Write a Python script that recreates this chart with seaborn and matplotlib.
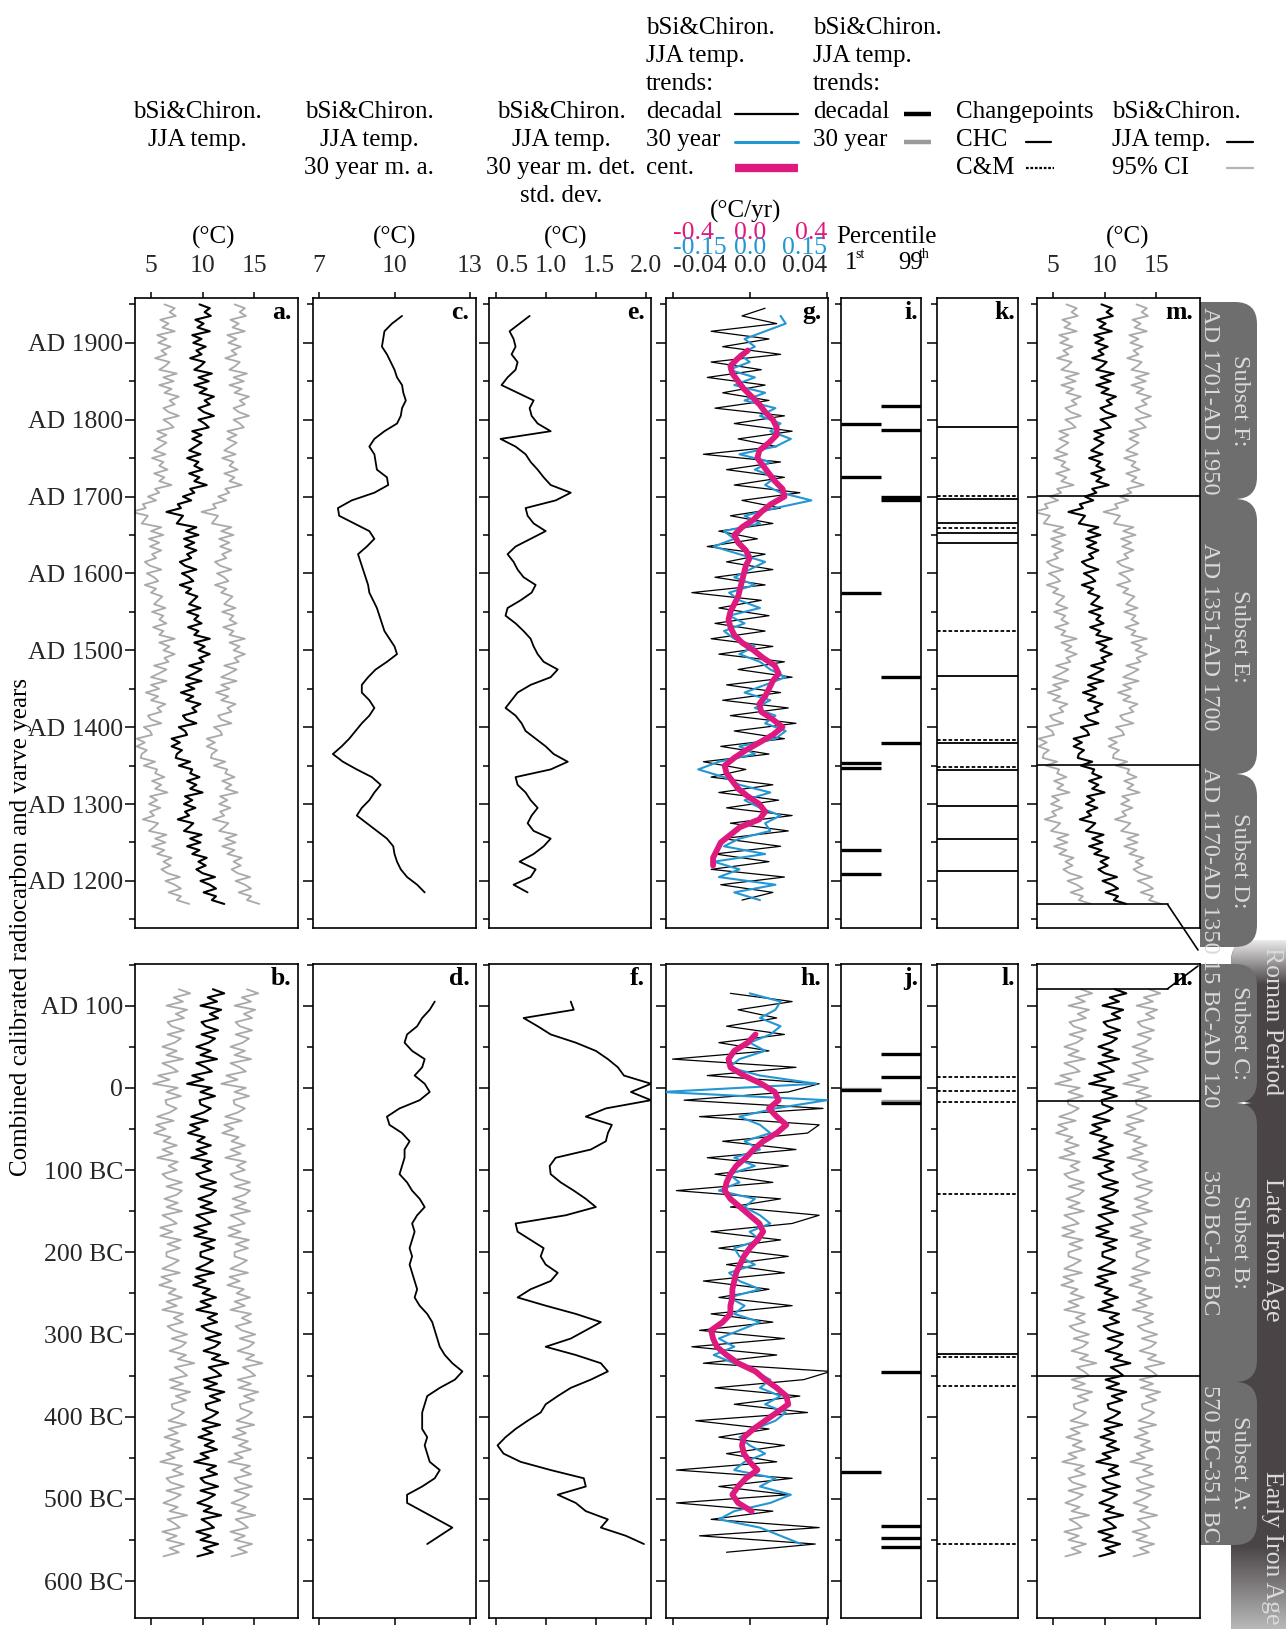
import numpy as np
import matplotlib
matplotlib.use("Agg")
import matplotlib.pyplot as plt
import matplotlib.transforms as mtransforms
from matplotlib.ticker import MultipleLocator, FuncFormatter, FixedLocator, NullLocator
from matplotlib.patches import FancyBboxPatch, PathPatch, ConnectionPatch
from matplotlib.path import Path
from matplotlib.lines import Line2D
from matplotlib.colors import LinearSegmentedColormap
import seaborn as sns

# ------------------------------------------------------------------ data
# bSi & Chironomid JJA temperature (5-year steps)
temp_upper_start = 1170
temp_upper = [12.1, 10.9, 11.3, 10.1, 11.3, 10.7, 9.8, 11.2, 10.0, 9.4, 10.3, 9.6, 10.4, 9.0, 9.7,
              8.5, 9.8, 8.8, 9.9, 8.2, 8.7, 9.1, 7.6, 8.7, 8.3, 9.3, 8.2, 9.0, 8.3, 10.0, 8.8, 9.4,
              8.5, 9.7, 8.8, 9.0, 7.7, 8.8, 7.4, 7.5, 8.0, 7.0, 7.8, 7.0, 8.5, 8.3, 7.7, 9.4, 8.4,
              8.1, 9.4, 9.0, 9.8, 8.4, 9.1, 7.9, 9.2, 8.4, 9.9, 8.4, 9.2, 9.9, 8.7, 10.1, 9.7, 10.7,
              9.6, 10.2, 9.2, 10.7, 9.2, 9.6, 8.6, 9.9, 9.2, 9.6, 8.5, 9.8, 8.7, 9.1, 9.5, 8.4, 8.9,
              7.8, 9.1, 8.7, 8.0, 9.4, 8.3, 7.8, 8.9, 8.5, 9.4, 8.3, 9.2, 8.2, 9.6, 8.4, 9.4, 7.5,
              7.8, 8.1, 6.5, 7.9, 7.6, 8.9, 8.1, 9.2, 8.8, 10.4, 9.2, 9.7, 8.7, 10.0, 9.2, 9.6, 8.5,
              9.8, 8.7, 9.3, 9.9, 9.0, 9.9, 9.0, 10.6, 10.2, 9.6, 11.1, 10.1, 9.6, 10.7, 10.2, 11.1,
              9.7, 10.4, 9.2, 10.6, 9.6, 10.9, 9.2, 9.8, 10.2, 8.8, 9.9, 9.4, 10.3, 9.1, 9.9, 9.0,
              10.7, 9.5, 10.1, 9.3, 10.8, 10.2, 10.7, 9.7]
temp_lower_start = -570
temp_lower = [9.5, 11.0, 10.1, 11.5, 9.8, 10.8, 9.4, 11.1, 10.6, 9.9, 11.8, 10.1, 10.9, 9.5, 10.5,
              11.2, 9.8, 11.5, 10.2, 9.8, 11.4, 10.4, 11.3, 9.2, 10.6, 9.8, 11.4, 10.2, 11.1, 9.6,
              10.9, 10.0, 11.7, 10.0, 10.9, 11.5, 10.4, 10.3, 11.7, 10.7, 12.1, 10.2, 11.4, 10.1,
              11.8, 11.3, 10.6, 12.5, 10.9, 11.7, 10.1, 11.2, 11.7, 10.3, 11.8, 10.5, 9.9, 11.4,
              10.5, 11.4, 9.4, 10.8, 9.8, 11.3, 10.0, 10.7, 9.1, 10.3, 9.3, 11.1, 9.4, 10.3, 11.0,
              9.8, 9.8, 11.1, 9.9, 11.2, 9.2, 10.4, 9.2, 10.8, 10.2, 9.4, 11.3, 9.8, 10.9, 9.6,
              10.8, 11.3, 9.8, 11.3, 9.9, 9.4, 10.8, 10.0, 10.9, 8.9, 10.4, 9.4, 10.8, 9.5, 10.2,
              8.6, 9.7, 8.8, 10.5, 8.9, 10.1, 10.8, 9.8, 9.7, 11.2, 9.8, 10.9, 8.5, 10.1, 9.0,
              10.9, 10.3, 9.4, 11.4, 9.8, 10.8, 9.4, 10.6, 11.2, 9.9, 11.5, 10.3, 9.9, 11.5, 10.7,
              11.8, 9.8, 11.4, 10.5, 12.1, 11.0]
temp_step = 5
ci_half_width_upper = 3.4   # 95% CI half width (deg C)
ci_half_width_lower = 3.3

# 30-year moving average (10-year steps)
ma30_upper_start = 1185
ma30_upper = [11.2, 10.9, 10.5, 10.25, 10.1, 10.0, 9.95, 9.7, 9.3, 8.9, 8.5, 8.7, 9.0, 9.2, 9.45,
              9.1, 8.5, 7.95, 7.55, 7.9, 8.2, 8.45, 8.7, 9.0, 9.2, 9.0, 8.7, 8.7, 8.95, 9.25, 9.7,
              10.1, 10.0, 9.8, 9.6, 9.5, 9.4, 9.3, 9.15, 9.0, 8.95, 8.85, 8.75, 8.65, 8.55, 8.9, 9.2,
              9.0, 8.4, 7.8, 7.75, 8.3, 9.2, 9.75, 9.7, 9.3, 9.25, 9.2, 9.0, 9.2, 9.6, 10.1, 10.25,
              10.3, 10.45, 10.35, 10.3, 10.1, 10.0, 9.85, 9.7, 9.5, 9.55, 9.6, 9.9, 10.3]
ma30_lower_start = -555
ma30_lower = [11.3, 11.8, 12.3, 11.7, 11.1, 10.5, 10.5, 11.1, 11.6, 11.8, 11.4, 11.3, 11.2, 11.3,
              11.1, 11.1, 11.1, 11.2, 11.3, 11.8, 12.4, 12.7, 12.3, 12.0, 11.8, 11.7, 11.6, 11.5,
              11.3, 11.0, 10.8, 10.9, 10.8, 10.7, 10.6, 10.7, 10.6, 10.7, 10.8, 10.7, 10.9, 11.2,
              11.0, 10.7, 10.5, 10.2, 10.3, 10.4, 10.4, 10.6, 10.3, 9.8, 9.7, 10.2, 11.0, 11.4, 11.2,
              10.8, 11.1, 11.2, 10.7, 10.4, 10.5, 10.9, 11.1, 11.4, 11.6]

# 30-year moving detrended standard deviation (10-year steps)
sd_upper_start = 1185
sd_upper = [0.82, 0.68, 0.85, 0.90, 0.74, 0.88, 0.98, 1.05, 0.88, 0.82, 0.86, 0.92, 0.85, 0.80,
            0.72, 0.70, 1.05, 1.22, 1.08, 1.00, 0.90, 0.80, 0.76, 0.70, 0.60, 0.66, 0.72, 0.85,
            1.05, 1.12, 0.98, 0.92, 0.88, 0.85, 0.78, 0.70, 0.60, 0.62, 0.75, 0.86, 0.90, 0.78,
            0.72, 0.68, 0.62, 0.70, 0.85, 1.00, 0.88, 0.82, 0.80, 1.10, 1.25, 1.05, 0.98, 0.92,
            0.85, 0.80, 0.70, 0.55, 1.05, 0.92, 0.86, 0.84, 0.88, 0.72, 0.56, 0.62, 0.70, 0.72,
            0.66, 0.70, 0.68, 0.64, 0.74, 0.84]
sd_lower_start = -555
sd_lower = [1.98, 1.80, 1.55, 1.62, 1.40, 1.30, 1.12, 1.40, 1.38, 1.05, 0.75, 0.58, 0.52, 0.60,
            0.70, 0.82, 0.95, 1.00, 1.12, 1.25, 1.45, 1.62, 1.55, 1.30, 1.00, 1.25, 1.40, 1.55,
            1.30, 1.00, 0.72, 0.85, 1.05, 1.12, 1.00, 0.95, 0.98, 0.85, 0.72, 0.70, 1.20, 1.50,
            1.40, 1.28, 1.15, 1.05, 1.04, 1.10, 1.45, 1.60, 1.62, 1.66, 1.40, 1.60, 2.05, 1.85,
            2.05, 1.78, 1.72, 1.62, 1.50, 1.30, 1.05, 0.92, 0.78, 1.28, 1.25]

# temperature trends: decadal (deg C/yr), 30 year and centennial (10-year steps)
dec_upper_start = 1175
dec_trend_upper = [-0.004, 0.012, -0.015, 0.018, -0.020, 0.010, -0.018, 0.016, -0.014, 0.020,
                   -0.010, 0.022, -0.012, 0.015, -0.016, 0.012, -0.020, -0.002, -0.024, 0.010,
                   -0.015, 0.018, -0.008, 0.024, -0.010, 0.020, -0.014, 0.016, -0.012, 0.022,
                   -0.006, 0.018, -0.016, 0.012, -0.020, 0.008, -0.018, 0.010, -0.016, 0.006,
                   -0.030, 0.008, -0.018, 0.012, -0.012, 0.008, -0.022, 0.004, -0.016, 0.012,
                   -0.010, 0.016, -0.004, 0.026, -0.008, 0.018, -0.012, 0.016, -0.024, 0.014,
                   -0.006, 0.022, -0.008, 0.018, -0.018, 0.010, -0.014, 0.008, -0.022, 0.006,
                   -0.020, 0.016, -0.014, 0.010, -0.020, 0.014, -0.004, 0.008]
y30_upper_start = 1175
y30_trend_upper = [0.02, -0.03, 0.05, -0.06, -0.02, -0.07, 0.03, -0.05, -0.02, 0.04, 0.03, 0.06,
                   0.02, -0.01, 0.04, -0.02, -0.05, -0.10, -0.06, 0.01, -0.02, 0.05, 0.07, 0.03,
                   0.05, 0.01, 0.04, -0.01, 0.03, 0.07, 0.04, 0.02, -0.02, 0.01, -0.03, -0.05,
                   -0.01, -0.04, 0.02, -0.02, -0.04, 0.01, -0.03, 0.00, 0.03, -0.02, -0.07, -0.03,
                   -0.05, 0.02, -0.01, 0.05, 0.12, 0.06, 0.03, 0.05, 0.01, 0.04, -0.02, 0.05, 0.08,
                   0.04, 0.06, 0.02, 0.05, -0.01, 0.03, -0.03, 0.01, -0.04, 0.00, -0.02, 0.01,
                   -0.01, 0.03, 0.07, 0.06]
cent_upper_start = 1220
cent_trend_upper = [-0.19, -0.19, -0.17, -0.15, -0.10, -0.05, 0.05, 0.08, 0.05, -0.01, -0.06,
                    -0.09, -0.12, -0.13, -0.08, -0.02, 0.05, 0.12, 0.17, 0.12, 0.06, 0.05, 0.08,
                    0.10, 0.12, 0.15, 0.13, 0.07, 0.02, -0.04, -0.08, -0.10, -0.11, -0.10, -0.08,
                    -0.06, -0.05, -0.04, -0.03, -0.02, 0.00, -0.02, -0.06, -0.08, -0.04, 0.02, 0.06,
                    0.11, 0.18, 0.17, 0.13, 0.10, 0.07, 0.04, 0.05, 0.10, 0.14, 0.14, 0.12, 0.08,
                    0.05, 0.01, -0.03, -0.06, -0.09, -0.10, -0.06, -0.01]
dec_lower_start = -565
dec_trend_lower = [-0.012, 0.034, -0.026, 0.036, -0.020, 0.012, -0.038, 0.020, -0.016, 0.022,
                   -0.038, 0.014, -0.012, 0.018, -0.016, 0.010, -0.028, 0.030, -0.008, 0.026,
                   -0.018, 0.028, 0.042, -0.024, 0.014, -0.030, 0.018, -0.026, 0.012, -0.020,
                   0.022, -0.016, 0.010, -0.024, 0.018, -0.012, 0.020, -0.016, 0.016, -0.020,
                   0.022, 0.036, -0.010, 0.016, -0.038, 0.012, -0.018, 0.020, -0.022, 0.024,
                   -0.014, 0.030, 0.036, -0.026, 0.038, -0.034, 0.020, 0.036, -0.022, 0.024,
                   -0.040, 0.010, -0.016, 0.018, -0.012, 0.014, -0.006, 0.022, -0.010]
y30_lower_start = -555
y30_trend_lower = [0.10, 0.06, 0.02, -0.06, -0.03, 0.04, 0.08, 0.02, 0.05, -0.03, -0.01, 0.03,
                   0.00, -0.02, 0.01, 0.05, 0.07, 0.03, 0.06, 0.02, 0.04, 0.01, -0.03, -0.07,
                   -0.03, -0.06, -0.02, 0.02, -0.03, -0.01, -0.04, 0.02, -0.02, -0.04, 0.01, -0.02,
                   -0.03, 0.02, 0.00, 0.04, 0.02, -0.01, 0.01, -0.06, -0.02, -0.04, 0.01, -0.03,
                   0.02, -0.01, 0.04, 0.02, -0.02, 0.05, 0.15, -0.17, 0.13, 0.02, -0.04, -0.02,
                   0.03, 0.00, 0.04, 0.06, 0.02, 0.05, 0.06, 0.00]
cent_lower_start = -515
cent_trend_lower = [0.01, -0.06, -0.09, -0.06, -0.02, 0.04, 0.00, -0.03, -0.04, -0.03, 0.02, 0.08,
                    0.14, 0.20, 0.19, 0.14, 0.08, 0.03, -0.06, -0.12, -0.17, -0.19, -0.20, -0.14,
                    -0.10, -0.10, -0.09, -0.09, -0.08, -0.07, -0.05, -0.03, 0.00, 0.04, 0.07, 0.05,
                    0.00, -0.05, -0.10, -0.13, -0.12, -0.10, -0.07, -0.02, 0.02, 0.07, 0.14, 0.19,
                    0.14, 0.10, 0.15, 0.13, 0.06, -0.03, -0.10, -0.11, -0.08, -0.01, 0.03]
trend_step = 10

# years of extreme trends (1st / 99th percentile)
pct1_upper = [1794, 1726, 1574, 1353, 1347, 1240, 1209]
pct99_upper = [1818, 1786, 1700, 1695, 1465, 1380]
pct1_lower = [-3, -467]
pct99_lower = [41, 13, -18, -346, -533, -548, -559]
pct1_lower_30yr = [-1]
pct99_lower_30yr = [-16]

# changepoints
chc_upper = [1790, 1697, 1666, 1653, 1639, 1467, 1380, 1344, 1297, 1255, 1213]
cm_upper = [1701, 1659, 1525, 1383, 1348]
chc_lower = [-324]
cm_lower = [13, -4, -17, -129, -327, -363, -555]

# subsets
subset_bounds_upper = [1700.5, 1350.5]
subset_first_upper = 1169.5
subset_bounds_lower = [-15.5, -350.5]
subset_last_lower = 120.5
subset_names = ["Subset F:", "Subset E:", "Subset D:", "Subset C:", "Subset B:", "Subset A:"]
subset_ranges = ["AD 1701-AD 1950", "AD 1351-AD 1700", "AD 1170-AD 1350",
                 "15 BC-AD 120", "350 BC-16 BC", "570 BC-351 BC"]
period_names = ["Roman Period", "Late Iron Age", "Early Iron Age"]

# ------------------------------------------------------------------ style
BLUE = "#2397d4"
MAG = "#de1a7f"
GREY = "#a9a9a9"
TAB = "#6e6e6e"
DARK = "#4a4446"
TABTXT = "#dadada"

sns.set_theme(style="ticks")
plt.rcParams["font.family"] = ["Liberation Serif", "DejaVu Serif"]
plt.rcParams["axes.linewidth"] = 1.2

W, H = 1286, 1629
fig = plt.figure(figsize=(W / 100, H / 100), dpi=100)

# overlay in pixel units (y downwards) for headings, keys and tabs
ov = fig.add_axes([0, 0, 1, 1])
ov.set_xlim(0, W)
ov.set_ylim(H, 0)
ov.axis("off")


def box(x0, x1, y0, y1):
    return [x0 / W, 1 - y1 / H, (x1 - x0) / W, (y1 - y0) / H]


cols = {"a": (135, 298), "c": (313, 476), "e": (489, 651), "g": (666, 828),
        "i": (841, 921), "k": (937, 1018), "m": (1037, 1200)}
lower_name = {"a": "b", "c": "d", "e": "f", "g": "h", "i": "j", "k": "l", "m": "n"}
rows = {"upper": (298, 928), "lower": (964, 1618)}
ylims = {"upper": (1138.7, 1958.3), "lower": (-645.0, 150.7)}
xlims = {"a": (3.45, 19.25), "c": (6.76, 13.24), "e": (0.435, 2.05), "g": (-0.0434, 0.0406),
         "i": (0, 1), "k": (0, 1), "m": (3.45, 19.25)}
xticks = {"a": [5, 10, 15], "c": [7, 10, 13], "e": [0.5, 1.0, 1.5, 2.0],
          "g": [-0.04, 0.0, 0.04], "m": [5, 10, 15]}
xticklabels = {"a": ["5", "10", "15"], "c": ["7", "10", "13"], "e": ["0.5", "1.0", "1.5", "2.0"],
               "g": ["-0.04", "0.0", "0.04"], "m": ["5", "10", "15"]}
LS = 18.5


def year_label_upper(v, pos):
    return f"AD {int(round(v))}"


def year_label_lower(v, pos):
    v = int(round(v))
    if v > 0:
        return f"AD {v}"
    if v == 0:
        return "0"
    return f"{-v} BC"


def top_ticks(ax, row):
    if row == "upper":
        ax.tick_params(axis="x", top=True, bottom=False, labeltop=True, labelbottom=False,
                       direction="out", length=4, width=1.1, color="black",
                       labelsize=LS, pad=11)
    else:
        ax.tick_params(axis="x", top=False, bottom=True, labeltop=False, labelbottom=False,
                       direction="out", length=5, width=1.1, color="black")


axes = {}
for row in ("upper", "lower"):
    y0, y1 = rows[row]
    for c, (x0, x1) in cols.items():
        ax = fig.add_axes(box(x0, x1, y0, y1))
        ax.set_facecolor("white")
        ax.set_xlim(*xlims[c])
        ax.set_ylim(*ylims[row])
        for s in ax.spines.values():
            s.set_color("black")
            s.set_linewidth(1.2)
        ax.yaxis.set_major_locator(MultipleLocator(100))
        ax.yaxis.set_minor_locator(MultipleLocator(50))
        ax.tick_params(axis="y", which="major", left=True, right=False, direction="out",
                       length=7.5, width=1.1, color="black", labelsize=LS, pad=1,
                       labelleft=(c == "a"))
        ax.tick_params(axis="y", which="minor", left=True, right=False, direction="out",
                       length=4.5, width=1.1, color="black")
        if c == "a":
            ax.yaxis.set_major_formatter(FuncFormatter(
                year_label_upper if row == "upper" else year_label_lower))
        if c in xticks:
            ax.xaxis.set_major_locator(FixedLocator(xticks[c]))
            if row == "upper":
                ax.set_xticklabels(xticklabels[c])
            top_ticks(ax, row)
        else:
            ax.xaxis.set_major_locator(NullLocator())
        ax.xaxis.set_minor_locator(NullLocator())
        name = c if row == "upper" else lower_name[c]
        ax.text(0.96, 0.995, name + ".", transform=ax.transAxes, ha="right", va="top",
                fontsize=LS, fontweight="bold", color="black")
        axes[name] = ax


def years(start, step, n):
    return start + step * np.arange(n)


def profile(ax, vals, yrs, color, lw, z=2):
    sns.lineplot(x=np.asarray(vals, float), y=np.asarray(yrs, float), ax=ax, color=color,
                 linewidth=lw, orient="y", sort=False, estimator=None, zorder=z)
    ax.set_xlabel("")
    ax.set_ylabel("")


def align_edge_labels(ax):
    ticks = ax.xaxis.get_major_ticks()
    for lab in (ticks[0].label1, ticks[0].label2):
        lab.set_horizontalalignment("left")
    for lab in (ticks[-1].label1, ticks[-1].label2):
        lab.set_horizontalalignment("right")


# temperature with 95% CI (a, m / b, n)
for names, vals, start, hw in ((("a", "m"), temp_upper, temp_upper_start, ci_half_width_upper),
                               (("b", "n"), temp_lower, temp_lower_start, ci_half_width_lower)):
    v = np.asarray(vals)
    yr = years(start, temp_step, len(v))
    for nm in names:
        ax = axes[nm]
        profile(ax, v - hw, yr, GREY, 1.3, 2)
        profile(ax, v + hw, yr, GREY, 1.3, 2)
        profile(ax, v, yr, "black", 1.5, 3)

# 30-year moving average
profile(axes["c"], ma30_upper, years(ma30_upper_start, trend_step, len(ma30_upper)), "black", 1.3)
profile(axes["d"], ma30_lower, years(ma30_lower_start, trend_step, len(ma30_lower)), "black", 1.3)
# detrended standard deviation
profile(axes["e"], sd_upper, years(sd_upper_start, trend_step, len(sd_upper)), "black", 1.3)
profile(axes["f"], sd_lower, years(sd_lower_start, trend_step, len(sd_lower)), "black", 1.3)

# trends on three stacked scales
scale_blue = 0.15 / 0.04
scale_mag = 0.4 / 0.04
for nm, row, dec, ds, y30, ys, cen, cs in (
        ("g", "upper", dec_trend_upper, dec_upper_start, y30_trend_upper, y30_upper_start,
         cent_trend_upper, cent_upper_start),
        ("h", "lower", dec_trend_lower, dec_lower_start, y30_trend_lower, y30_lower_start,
         cent_trend_lower, cent_lower_start)):
    ax = axes[nm]
    lo, hi = ax.get_xlim()
    axb = ax.twiny()
    axb.set_xlim(lo * scale_blue, hi * scale_blue)
    axm = ax.twiny()
    axm.set_xlim(lo * scale_mag, hi * scale_mag)
    top_ticks(ax, row)
    profile(ax, dec, years(ds, trend_step, len(dec)), "black", 0.9)
    profile(axb, y30, years(ys, trend_step, len(y30)), BLUE, 1.5)
    profile(axm, cen, years(cs, trend_step, len(cen)), MAG, 4.2)
    for tw in (axb, axm):
        tw.set_ylim(ax.get_ylim())
        for s in tw.spines.values():
            s.set_visible(False)
        tw.xaxis.set_minor_locator(NullLocator())
    if nm == "g":
        axb.xaxis.set_major_locator(FixedLocator([-0.15, 0.0, 0.15]))
        axb.set_xticklabels(["-0.15", "0.0", "0.15"])
        axb.tick_params(axis="x", top=True, labeltop=True, bottom=False, labelbottom=False,
                        length=0, labelsize=LS, labelcolor=BLUE, pad=28)
        axm.xaxis.set_major_locator(FixedLocator([-0.4, 0.0, 0.4]))
        axm.set_xticklabels(["-0.4", "0.0", "0.4"])
        axm.tick_params(axis="x", top=True, labeltop=True, bottom=False, labelbottom=False,
                        length=0, labelsize=LS, labelcolor=MAG, pad=39)
        for a in (ax, axb, axm):
            align_edge_labels(a)
    else:
        axb.xaxis.set_major_locator(NullLocator())
        axm.xaxis.set_major_locator(NullLocator())

# spread the crowded labels of panel e a little
e_ticks = axes["e"].xaxis.get_major_ticks()
e_ticks[0].label2.set_horizontalalignment("left")
for tk, dx in zip(e_ticks[1:3], (5, 3)):
    off = mtransforms.ScaledTranslation(dx / 100, 0, fig.dpi_scale_trans)
    tk.label2.set_transform(tk.label2.get_transform() + off)

# percentile bars
for nm, p1, p99 in (("i", pct1_upper, pct99_upper), ("j", pct1_lower, pct99_lower)):
    ax = axes[nm]
    ax.hlines(p1, 0.0, 0.5, color="black", lw=2.4)
    ax.hlines(p99, 0.5, 1.0, color="black", lw=2.4)
axes["j"].hlines(pct1_lower_30yr, 0.0, 0.5, color="#9a9a9a", lw=2.4, zorder=1)
axes["j"].hlines(pct99_lower_30yr, 0.5, 1.0, color="#9a9a9a", lw=2.4, zorder=1)

# changepoints
for nm, chc, cm in (("k", chc_upper, cm_upper), ("l", chc_lower, cm_lower)):
    ax = axes[nm]
    ax.hlines(chc, 0, 1, color="black", lw=1.3)
    ax.hlines(cm, 0, 1, color="black", lw=1.3, linestyles=(0, (2.0, 1.2)))

# subset boundaries
for y in subset_bounds_upper:
    axes["m"].axhline(y, color="black", lw=1.2, zorder=4)
for y in subset_bounds_lower:
    axes["n"].axhline(y, color="black", lw=1.2, zorder=4)
x_break = 16.1
for nm, y, target in (("m", subset_first_upper, (1198, 950)), ("n", subset_last_lower, (1198, 966))):
    ax = axes[nm]
    ax.plot([ax.get_xlim()[0], x_break], [y, y], color="black", lw=1.2, zorder=4, clip_on=False)
    cp = ConnectionPatch(xyA=(x_break, y), coordsA=ax.transData, xyB=target,
                         coordsB=ov.transData, color="black", lw=1.2, zorder=6)
    fig.add_artist(cp)

# ------------------------------------------------------------------ headings
FS = 18


def t(x, y, s, ha="left", **kw):
    ov.text(x, y, s, ha=ha, va="center", fontsize=kw.pop("fontsize", FS),
            color=kw.pop("color", "black"), **kw)


for cx, lines in ((197, ["bSi&Chiron.", "JJA temp."]),
                  (369, ["bSi&Chiron.", "JJA temp.", "30 year m. a."]),
                  (561, ["bSi&Chiron.", "JJA temp.", "30 year m. det.", "std. dev."])):
    for k, s in enumerate(lines):
        t(cx, 112 + 28 * k, s, ha="center")

for k, s in enumerate(["bSi&Chiron.", "JJA temp.", "trends:", "decadal", "30 year", "cent."]):
    t(646, 28 + 28 * k, s)
for k, s in enumerate(["bSi&Chiron.", "JJA temp.", "trends:", "decadal", "30 year"]):
    t(813, 28 + 28 * k, s)
for k, s in enumerate(["Changepoints", "CHC", "C&M"]):
    t(956, 112 + 28 * k, s)
for k, s in enumerate(["bSi&Chiron.", "JJA temp.", "95% CI"]):
    t(1112, 112 + 28 * k, s)

ov.add_line(Line2D([735, 798], [114, 114], color="black", lw=1.6))
ov.add_line(Line2D([735, 798], [142, 142], color=BLUE, lw=2.2))
ov.add_line(Line2D([735, 798], [168, 168], color=MAG, lw=6.0, solid_capstyle="butt"))
ov.add_line(Line2D([904, 931], [114, 114], color="black", lw=3.2, solid_capstyle="butt"))
ov.add_line(Line2D([904, 931], [142, 142], color="#9a9a9a", lw=3.2, solid_capstyle="butt"))
ov.add_line(Line2D([1026, 1051], [142, 142], color="black", lw=1.6))
ov.add_line(Line2D([1026, 1054], [168, 168], color="black", lw=1.6, linestyle=(0, (1.2, 0.8))))
ov.add_line(Line2D([1227, 1253], [142, 142], color="black", lw=1.6))
ov.add_line(Line2D([1227, 1253], [168, 168], color="#b5b5b5", lw=1.6))

# axis unit headings
for x, s in ((214, "(°C)"), (395, "(°C)"), (566, "(°C)"), (1128, "(°C)")):
    t(x, 237, s, ha="center")
t(746, 211, "(°C/yr)", ha="center")
t(886, 237, "Percentile", ha="center")
t(845, 263, "1")
t(855, 254, "st", fontsize=10)
t(898, 263, "99")
t(919, 254, "th", fontsize=10)

t(21, 927, "Combined calibrated radiocarbon and varve years", ha="center", rotation=90)


# ------------------------------------------------------------------ side tabs
def right_round(x0, x1, y0, y1, r):
    verts = [(x0, y0), (x1 - r, y0), (x1, y0), (x1, y0 + r), (x1, y1 - r), (x1, y1),
             (x1 - r, y1), (x0, y1), (x0, y0)]
    codes = [Path.MOVETO, Path.LINETO, Path.CURVE3, Path.CURVE3, Path.LINETO, Path.CURVE3,
             Path.CURVE3, Path.LINETO, Path.CLOSEPOLY]
    return Path(verts, codes)


periods = [(940, 1103, 1021), (1103, 1444, 1250), (1444, 1660, 1548)]
period_patches = []
for (y0, y1, yc), name in zip(periods, period_names):
    p = FancyBboxPatch((1231, y0), 90, y1 - y0, boxstyle="round,pad=0,rounding_size=22",
                       facecolor=DARK, edgecolor="none", zorder=1)
    ov.add_patch(p)
    period_patches.append(p)
    t(1272, yc, name, ha="center", rotation=270, color=TABTXT, fontsize=LS, zorder=5)

fade_in = LinearSegmentedColormap.from_list("fade_in", ["#f2f2f2", DARK])
im = ov.imshow(np.linspace(0, 1, 64)[:, None], extent=(1225, 1300, 985, 938), origin="upper",
               cmap=fade_in, aspect="auto", zorder=2)
im.set_clip_path(period_patches[0])
fade_out = LinearSegmentedColormap.from_list("fade_out", [DARK, "#b8b8b8"])
im2 = ov.imshow(np.linspace(0, 1, 64)[:, None], extent=(1225, 1300, 1629, 1545), origin="upper",
                cmap=fade_out, aspect="auto", zorder=2)
im2.set_clip_path(period_patches[2])

subsets = [(302, 499), (499, 774), (774, 947), (964, 1103), (1103, 1382), (1382, 1545)]
for (y0, y1), nm, rg in zip(subsets, subset_names, subset_ranges):
    ov.add_patch(PathPatch(right_round(1200, 1257, y0, y1, 22), facecolor=TAB,
                           edgecolor="none", zorder=3))
    yc = 0.5 * (y0 + y1)
    t(1210, yc, rg, ha="center", rotation=270, color=TABTXT, fontsize=17.5, zorder=5)
    t(1239, yc, nm, ha="center", rotation=270, color=TABTXT, fontsize=17.5, zorder=5)

ov.set_xlim(0, W)
ov.set_ylim(H, 0)

fig.savefig("out.png", dpi=100, facecolor="white")
